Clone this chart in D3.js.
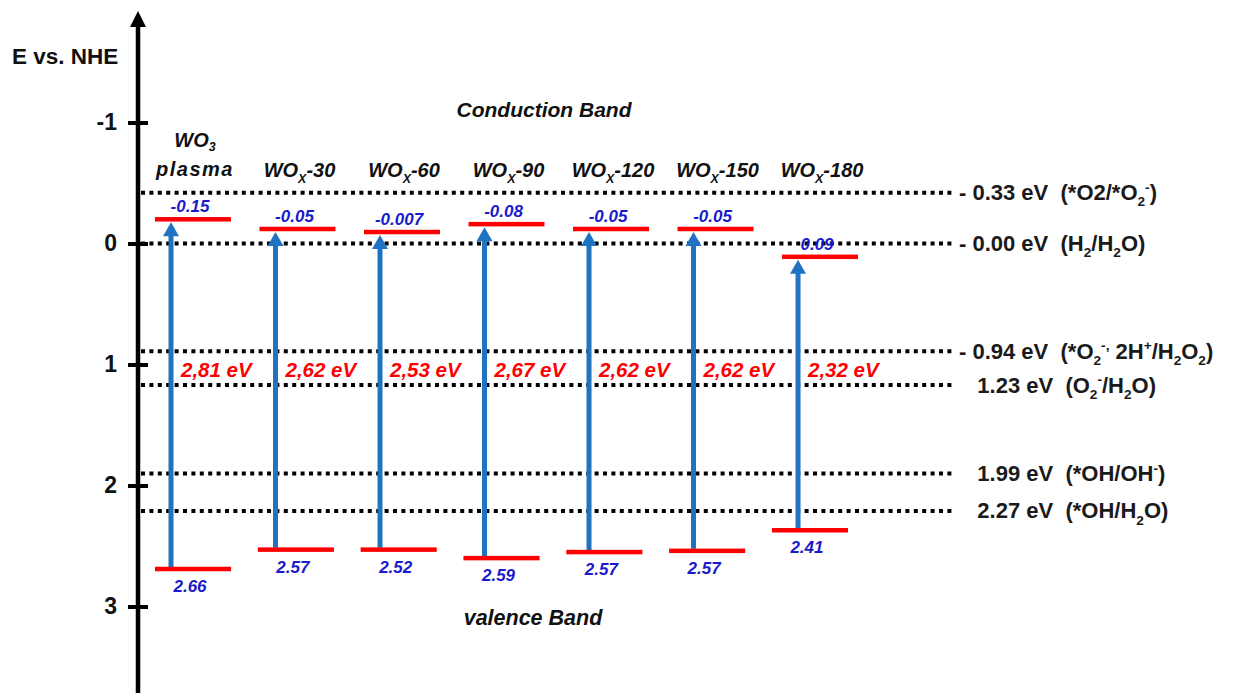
<!DOCTYPE html>
<html>
<head>
<meta charset="utf-8">
<script src="https://cdn.jsdelivr.net/npm/d3@7"></script>
<style>
  html, body { margin: 0; padding: 0; background: #fff; }
  text { font-family: "Liberation Sans", Arial, sans-serif; white-space: pre; }
</style>
</head>
<body>
<svg id="chart" width="1234" height="693"></svg>
<script>
// ---------------- data ----------------
const categories = ["WO3 plasma", "WOx-30", "WOx-60", "WOx-90", "WOx-120", "WOx-150", "WOx-180"];
const cbLabels  = ["-0.15", "-0.05", "-0.007", "-0.08", "-0.05", "-0.05", "0.09"];
const vbLabels  = ["2.66", "2.57", "2.52", "2.59", "2.57", "2.57", "2.41"];
const gapLabels = ["2,81 eV", "2,62 eV", "2,53 eV", "2,67 eV", "2,62 eV", "2,62 eV", "2,32 eV"];
// drawn positions of the band edges (E vs. NHE, as placed in the schematic)
const cbLevel = [-0.20, -0.12, -0.095, -0.16, -0.12, -0.12, 0.11];
const vbLevel = [2.69, 2.53, 2.53, 2.60, 2.55, 2.54, 2.37];
// redox potential reference lines (drawn positions) and their labels
const redoxLevel = [-0.42, 0.00, 0.89, 1.17, 1.90, 2.21];
const redoxLabels = [
  [["- 0.33 eV  (*O2/*O"], ["2", "sub"], ["-", "sup"], [")"]],
  [["- 0.00 eV  (H"], ["2", "sub"], ["/H"], ["2", "sub"], ["O)"]],
  [["- 0.94 eV  (*O"], ["2", "sub"], ["-,", "sup"], [" 2H"], ["+", "sup"], ["/H"], ["2", "sub"], ["O"], ["2", "sub"], [")"]],
  [["   1.23 eV  (O"], ["2", "sub"], ["-", "sup"], ["/H"], ["2", "sub"], ["O)"]],
  [["   1.99 eV  (*OH/OH"], ["-", "sup"], [")"]],
  [["   2.27 eV  (*OH/H"], ["2", "sub"], ["O)"]]
];
const yTicks = [-1, 0, 1, 2, 3];

// ---------------- layout ----------------
const svg = d3.select("#chart");
const axisX = 138;
const y = d3.scaleLinear().domain([-1, 3]).range([122.5, 606.5]);
const xCB = d3.scaleBand().domain(categories).range([155, 858]).paddingInner(0.273).paddingOuter(0);
const xVB = d3.scaleBand().domain(categories).range([155, 848]).paddingInner(0.26).paddingOuter(0);

const RED = "#ff0000", BLUE = "#1f73c0", LBLUE = "#1a1acb", INK = "#111";

function richText(sel, segs, size, subShift) {
  let shift = 0;
  segs.forEach(s => {
    const t = sel.append("tspan").text(s[0]);
    let target = 0;
    if (s[1] === "sub") { target = size * (subShift || 0.28); t.attr("font-size", size * 0.62); }
    else if (s[1] === "sup") { target = -size * 0.38; t.attr("font-size", size * 0.62); }
    t.attr("dy", target - shift);
    shift = target;
  });
}

// dotted reference lines
svg.append("g").selectAll("line").data(redoxLevel).join("line")
  .attr("x1", axisX + 3).attr("x2", 954)
  .attr("y1", d => y(d)).attr("y2", d => y(d))
  .attr("stroke", "#000").attr("stroke-width", 4)
  .attr("stroke-dasharray", "4,4.4");

// redox labels
svg.append("g").selectAll("text").data(redoxLabels).join("text")
  .attr("x", 959).attr("y", (d, i) => y(redoxLevel[i]) + 7.5)
  .attr("font-size", 22).attr("font-weight", "bold").attr("fill", "#1a1a1a")
  .each(function (d) { richText(d3.select(this), d, 22); });

// y axis
const axisG = svg.append("g").attr("transform", `translate(${axisX + 10},0)`)
  .call(d3.axisLeft(y).tickValues(yTicks).tickSize(20).tickPadding(11).tickFormat(d => String(d)));
axisG.select(".domain").remove();
axisG.selectAll(".tick line").attr("stroke", "#000").attr("stroke-width", 4);
axisG.selectAll(".tick text").attr("font-size", 23).attr("font-weight", "bold")
  .attr("fill", INK).attr("font-family", "'Liberation Sans', Arial, sans-serif");

svg.append("line").attr("x1", axisX).attr("x2", axisX).attr("y1", 24).attr("y2", 693)
  .attr("stroke", "#000").attr("stroke-width", 4.5);
svg.append("path").attr("d", `M${axisX},11 L${axisX - 8},27 L${axisX + 8},27 Z`).attr("fill", "#000");

svg.append("text").attr("x", 12).attr("y", 64).attr("font-size", 22.5).attr("font-weight", "bold")
  .attr("fill", INK).text("E vs. NHE");

// titles
svg.append("text").attr("x", 544).attr("y", 117).attr("text-anchor", "middle")
  .attr("font-size", 21).attr("font-weight", "bold").attr("font-style", "italic").attr("fill", INK)
  .text("Conduction Band");
svg.append("text").attr("x", 533).attr("y", 625).attr("text-anchor", "middle")
  .attr("font-size", 21.5).attr("font-weight", "bold").attr("font-style", "italic").attr("fill", INK)
  .text("valence Band");

// category labels
const catG = svg.append("g");
categories.forEach((c, i) => {
  const cx = xCB(c) + xCB.bandwidth() / 2 + 2;
  const base = { "font-size": 20, "font-weight": "bold", "font-style": "italic", fill: INK };
  if (i === 0) {
    const t1 = catG.append("text").attr("x", cx).attr("y", 147).attr("text-anchor", "middle");
    Object.entries(base).forEach(([k, v]) => t1.attr(k, v));
    richText(t1, [["WO"], ["3", "sub"]], 20, 0.22);
    const t2 = catG.append("text").attr("x", cx).attr("y", 176).attr("text-anchor", "middle")
      .attr("letter-spacing", 1.5).text("plasma");
    Object.entries(base).forEach(([k, v]) => t2.attr(k, v));
  } else {
    const suffix = c.slice(3);
    const t = catG.append("text").attr("x", cx).attr("y", 177).attr("text-anchor", "middle");
    Object.entries(base).forEach(([k, v]) => t.attr(k, v));
    richText(t, [["WO"], ["X", "sub"], [suffix]], 20);
  }
});

// arrows
const arrowX = c => xCB(c) + 16;
const arrG = svg.append("g");
categories.forEach((c, i) => {
  const x = arrowX(c);
  const tip = y(cbLevel[i]) + 3;
  const bottom = y(vbLevel[i]) - 2;
  arrG.append("line").attr("x1", x).attr("x2", x).attr("y1", bottom).attr("y2", tip + 12)
    .attr("stroke", BLUE).attr("stroke-width", 5);
  arrG.append("path").attr("d", `M${x},${tip} L${x - 8},${tip + 14} L${x + 8},${tip + 14} Z`).attr("fill", BLUE);
});

// conduction band bars
svg.append("g").selectAll("rect").data(categories).join("rect")
  .attr("x", d => xCB(d)).attr("width", xCB.bandwidth())
  .attr("y", (d, i) => y(cbLevel[i]) - 2.25).attr("height", 4.5).attr("fill", RED);

// valence band bars
svg.append("g").selectAll("rect").data(categories).join("rect")
  .attr("x", d => xVB(d)).attr("width", xVB.bandwidth())
  .attr("y", (d, i) => y(vbLevel[i]) - 2.25).attr("height", 4.5).attr("fill", RED);

// CB value labels
svg.append("g").selectAll("text").data(categories).join("text")
  .attr("x", d => xCB(d) + xCB.bandwidth() / 2 - 3)
  .attr("y", (d, i) => y(cbLevel[i]) - 7)
  .attr("text-anchor", "middle").attr("font-size", 17).attr("font-weight", "bold")
  .attr("font-style", "italic").attr("fill", LBLUE)
  .text((d, i) => cbLabels[i]);

// VB value labels
svg.append("g").selectAll("text").data(categories).join("text")
  .attr("x", d => xVB(d) + xVB.bandwidth() / 2 - 3)
  .attr("y", (d, i) => y(vbLevel[i]) + 23)
  .attr("text-anchor", "middle").attr("font-size", 17).attr("font-weight", "bold")
  .attr("font-style", "italic").attr("fill", LBLUE)
  .text((d, i) => vbLabels[i]);

// band gap labels
svg.append("g").selectAll("text").data(categories).join("text")
  .attr("x", d => arrowX(d) + 10)
  .attr("y", y(1.1))
  .attr("font-size", 20.5).attr("font-weight", "bold").attr("font-style", "italic").attr("fill", RED)
  .text((d, i) => gapLabels[i]);
</script>
</body>
</html>
